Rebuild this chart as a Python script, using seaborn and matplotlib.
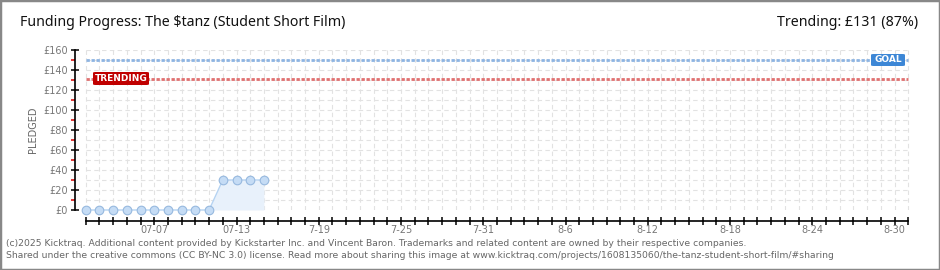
import matplotlib
matplotlib.use("Agg")
import matplotlib.pyplot as plt
import matplotlib.dates as mdates
from matplotlib.patches import FancyBboxPatch, Rectangle
import seaborn as sns
import pandas as pd
import numpy as np

# ---- data ----
dates = pd.date_range("2025-07-02", "2025-07-15", freq="D")
pledged = [0, 0, 0, 0, 0, 0, 0, 0, 0, 0, 30, 30, 30, 30]
goal = 150
trending = 131
trending_pct = 87
axis_start = "2025-07-02"
axis_end = "2025-08-31"
tick_dates = ["2025-07-07", "2025-07-13", "2025-07-19", "2025-07-25", "2025-07-31",
              "2025-08-06", "2025-08-12", "2025-08-18", "2025-08-24", "2025-08-30"]
tick_labels = ["07-07", "07-13", "7-19", "7-25", "7-31", "8-6", "8-12", "8-18", "8-24", "8-30"]
y_ticks = [0, 20, 40, 60, 80, 100, 120, 140, 160]
y_labels = ["£0", "£20", "£40", "£60", "£80", "£100", "£120", "£140", "£160"]

title = "Funding Progress: The $tanz (Student Short Film)"
footer1 = "(c)2025 Kicktraq. Additional content provided by Kickstarter Inc. and Vincent Baron. Trademarks and related content are owned by their respective companies."
footer2 = "Shared under the creative commons (CC BY-NC 3.0) license. Read more about sharing this image at www.kicktraq.com/projects/1608135060/the-tanz-student-short-film/#sharing"

sns.set_theme(style="white")
plt.rcParams["font.family"] = ["DejaVu Sans"]

W, H = 940, 270
fig = plt.figure(figsize=(W / 100, H / 100), dpi=100)
fig.patch.set_facecolor("white")

left, right, top, bottom = 75, 911, 50, 210
ax = fig.add_axes([left / W, 1 - bottom / H, (right - left) / W, (bottom - top) / H])
ax.set_facecolor("white")

df = pd.DataFrame({"date": dates, "pledged": pledged})

x0 = mdates.date2num(pd.Timestamp(axis_start))
x1 = mdates.date2num(pd.Timestamp(axis_end))
day_px = 13.7
ax.set_xlim(x0 - (85.7 - left) / day_px, x1 + 0.2)
ax.set_ylim(0, 160)

# grid
all_days = pd.date_range(axis_start, axis_end, freq="D")
for d in all_days:
    ax.axvline(mdates.date2num(d), color="#e2e2e2", lw=0.8, ls=(0, (4, 3)), zorder=0)
for yv in range(10, 161, 10):
    ax.hlines(yv, x0, x1, color="#e2e2e2", lw=0.8, ls=(0, (4, 3)), zorder=0)

# goal / trending lines
ax.hlines(goal, x0, x1, color="#8db4e2", lw=2.0, ls=(0, (1.2, 0.6)), zorder=1)
ax.hlines(trending, x0, x1, color="#e07070", lw=2.0, ls=(0, (1.2, 0.6)), zorder=1)

# fill + line + points
ax.fill_between(df["date"], df["pledged"], 0, color="#e8f1fb", zorder=2, lw=0)
sns.lineplot(data=df, x="date", y="pledged", ax=ax, color="#b5d3f2", lw=1.0,
             marker="o", markersize=6.2, markerfacecolor="#c5dcf5",
             markeredgecolor="#97b9df", markeredgewidth=0.8, zorder=3, clip_on=False)

# labels on lines
fig.patches.append(FancyBboxPatch((871 / W, 1 - 66 / H), 34 / W, 12 / H,
                                  boxstyle="round,pad=0,rounding_size=0.003",
                                  transform=fig.transFigure, fc="#3d87d6", ec="none", zorder=5))
fig.text(888 / W, 1 - 60 / H, "GOAL", color="white", fontsize=6.5, ha="center", va="center",
         fontweight="bold", zorder=6)
fig.patches.append(FancyBboxPatch((93 / W, 1 - 85 / H), 56 / W, 13 / H,
                                  boxstyle="round,pad=0,rounding_size=0.003",
                                  transform=fig.transFigure, fc="#c00000", ec="none", zorder=5))
fig.text(121 / W, 1 - 78.5 / H, "TRENDING", color="white", fontsize=6.5, ha="center", va="center",
         fontweight="bold", zorder=6)

# spines
for s in ["top", "right"]:
    ax.spines[s].set_visible(False)
ax.spines["left"].set_color("black")
ax.spines["left"].set_linewidth(1.2)
ax.spines["left"].set_bounds(0, 160)
ax.spines["bottom"].set_position(("outward", 8))
ax.spines["bottom"].set_color("black")
ax.spines["bottom"].set_linewidth(1.2)
ax.spines["bottom"].set_bounds(x0, x1)

# y ticks
ax.set_yticks(y_ticks)
ax.set_yticklabels(y_labels)
ax.set_yticks(list(range(10, 160, 20)), minor=True)
ax.tick_params(axis="y", which="major", direction="inout", length=6, width=1.1, color="black",
               labelsize=7, labelcolor="#777777", pad=2, left=True)
ax.tick_params(axis="y", which="minor", direction="out", length=3, width=1.1, color="#dd0000", left=True)

# x ticks
ax.set_xticks([mdates.date2num(d) for d in all_days], minor=True)
ax.set_xticks([mdates.date2num(pd.Timestamp(d)) for d in tick_dates])
ax.set_xticklabels(tick_labels)
ax.tick_params(axis="x", which="both", direction="inout", length=6, width=1.1, color="black",
               bottom=True)
ax.tick_params(axis="x", which="major", labelsize=7, labelcolor="#777777", pad=0)
ax.set_xlabel("")
ax.set_ylabel("PLEDGED", fontsize=7, color="#666666", labelpad=10)
ax.yaxis.set_label_coords(-(75 - 38) / (right - left), 0.5)

# titles
fig.text(20 / W, 1 - 22 / H, title, fontsize=10.2, color="#111111", ha="left", va="center",
         family="Noto Sans")
fig.text(918 / W, 1 - 22 / H, f"Trending: £{trending} ({trending_pct}%)", fontsize=10.2,
         color="#111111", ha="right", va="center", family="Noto Sans")
fig.text(6 / W, 1 - 243 / H, footer1, fontsize=6.7, color="#666666", ha="left", va="center")
fig.text(6 / W, 1 - 256 / H, footer2, fontsize=6.7, color="#666666", ha="left", va="center")

# border
fig.patches.append(Rectangle((0, 0), 1, 1, transform=fig.transFigure, fill=False,
                             ec="#888888", lw=2.5, zorder=10))

fig.savefig("out.png", dpi=100)
